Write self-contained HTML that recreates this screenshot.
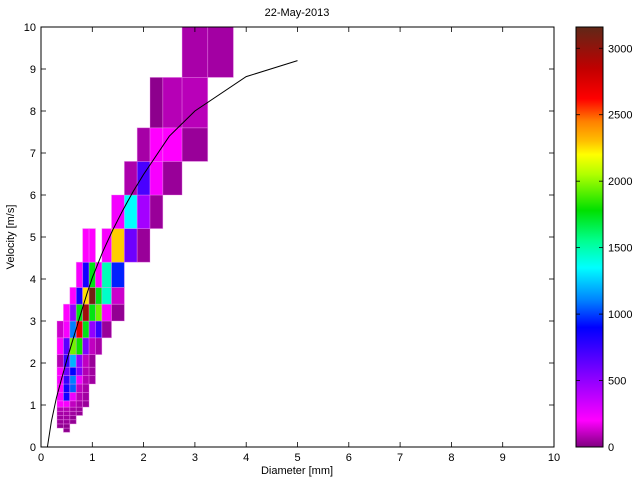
<!DOCTYPE html>
<html><head><meta charset="utf-8"><style>
body{margin:0;background:#fff;}
svg{display:block;font-family:"Liberation Sans",sans-serif;}
</style></head><body>
<svg id="chart" width="640" height="480" viewBox="0 0 640 480">
<rect width="640" height="480" fill="#fff"/>
<g id="cells"></g>
<path id="fit" fill="none" stroke="#000" stroke-width="1"/>
<rect x="41" y="27" width="513" height="420" fill="none" stroke="#000"/>
<g id="axes" font-size="11"></g>
<text x="297" y="16" font-size="11" text-anchor="middle">22-May-2013</text>
<text x="297" y="474" font-size="11" text-anchor="middle">Diameter [mm]</text>
<text x="14" y="237" font-size="11" text-anchor="middle" transform="rotate(-90 14 237)">Velocity [m/s]</text>
<defs><linearGradient id="cbg" x1="0" y1="1" x2="0" y2="0"></linearGradient></defs>
<rect x="576" y="27" width="27" height="420" fill="url(#cbg)" stroke="#000"/>
<g id="cbticks" font-size="11"></g>
</svg>
<script>
const diamEdges=[0.312,0.437,0.562,0.687,0.812,0.937,1.062,1.187,1.375,1.625,1.875,2.125,2.375,2.75,3.25,3.75];
const velEdges=[0.35,0.45,0.55,0.65,0.75,0.85,0.95,1.1,1.3,1.5,1.7,1.9,2.2,2.6,3.0,3.4,3.8,4.4,5.2,6.0,6.8,7.6,8.8,10.4];
const N=null;
// counts[row][col], row 0 = lowest velocity bin
const counts=[
[N,20],
[30,20],
[40,40,30],
[50,50,30],
[60,60,50,30],
[80,80,60,40],
[200,220,100,60,40],
[220,850,250,80,50],
[200,850,1050,100,60],
[220,750,1100,250,80,50],
[200,600,900,550,80,50],
[80,750,1200,500,100,40],
[200,650,1950,1800,550,100,60],
[120,220,1100,2700,1750,500,750,40],
[N,200,500,1750,2950,1750,1950,220,30],
[N,N,200,850,2250,3100,1750,1450,120],
[N,N,N,220,850,1750,200,1480,950],
[N,N,N,N,200,200,N,220,2280,600,40],
[N,N,N,N,N,N,N,N,230,1350,450,40],
[N,N,N,N,N,N,N,N,N,70,700,220,40],
[N,N,N,N,N,N,N,N,N,N,60,200,200,40],
[N,N,N,N,N,N,N,N,N,N,N,20,85,90],
[N,N,N,N,N,N,N,N,N,N,N,N,N,65,55]
];
const curveD=[0.1,0.2,0.3,0.4,0.5,0.6,0.7,0.8,0.9,1.0,1.2,1.4,1.6,1.8,2.0,2.5,3.0,4.0,5.0];
const curveV=[-0.2,0.6,1.17,1.62,2.06,2.47,2.87,3.27,3.67,4.03,4.64,5.17,5.65,6.09,6.49,7.4,8.0,8.82,9.2];
const xTicks=[0,1,2,3,4,5,6,7,8,9,10];
const yTicks=[0,1,2,3,4,5,6,7,8,9,10];
const cbTicks=[0,500,1000,1500,2000,2500,3000];
const cbMax=3160;
const cmapVals=[0,200,550,900,1100,1350,1550,1780,2050,2200,2300,2450,2620,2850,3160];
const cmapCols=['#800080','#ff00ff','#8000ff','#0000ff','#0080ff','#00ffff','#00ff90','#00e000','#b0ff00','#ffff00','#ffc000','#ff8000','#ff0000','#c00000','#602818'];

const NS='http://www.w3.org/2000/svg';
const X=d=>41+d*51.3, Y=v=>447-v*42, CY=c=>447-c/cbMax*420;
function hex(h){return [1,3,5].map(i=>parseInt(h.substr(i,2),16));}
function cmap(v){
  for(let i=1;i<cmapVals.length;i++){if(v<=cmapVals[i]){const t=(v-cmapVals[i-1])/(cmapVals[i]-cmapVals[i-1]);const a=hex(cmapCols[i-1]),b=hex(cmapCols[i]);return 'rgb('+a.map((x,k)=>Math.round(x+(b[k]-x)*t)).join(',')+')';}}
  return cmapCols[cmapCols.length-1];
}
const cells=document.getElementById('cells');
counts.forEach((row,r)=>row.forEach((val,c)=>{
  if(val==null)return;
  const el=document.createElementNS(NS,'rect');
  const y1=Y(Math.min(velEdges[r+1],10)),y0=Y(velEdges[r]);
  el.setAttribute('x',X(diamEdges[c]));el.setAttribute('width',X(diamEdges[c+1])-X(diamEdges[c]));
  el.setAttribute('y',y1);el.setAttribute('height',y0-y1);
  el.setAttribute('fill',cmap(val));el.setAttribute('stroke','rgba(240,140,240,0.45)');el.setAttribute('stroke-width','0.8');
  
  
  cells.appendChild(el);
}));
document.getElementById('fit').setAttribute('d',curveD.map((d,i)=>(i?'L':'M')+X(d).toFixed(1)+' '+Y(curveV[i]).toFixed(1)).join(' '));
const axes=document.getElementById('axes');
function line(x1,y1,x2,y2,p){const l=document.createElementNS(NS,'line');l.setAttribute('x1',x1);l.setAttribute('y1',y1);l.setAttribute('x2',x2);l.setAttribute('y2',y2);l.setAttribute('stroke','#000');l.setAttribute('stroke-width','0.8');
p.appendChild(l);}
function text(x,y,s,anc,p,name){const t=document.createElementNS(NS,'text');t.setAttribute('x',x);t.setAttribute('y',y);t.setAttribute('text-anchor',anc);t.textContent=s;
p.appendChild(t);}
xTicks.forEach(t=>{const x=X(t);line(x,447,x,442,axes);line(x,27,x,32,axes);text(x,461,String(t),'middle',axes,'x-tick-label');});
yTicks.forEach(t=>{const y=Y(t);line(41,y,46,y,axes);line(554,y,549,y,axes);text(36,y+4,String(t),'end',axes,'y-tick-label');});
const g=document.getElementById('cbg');
cmapVals.forEach((v,i)=>{const s=document.createElementNS(NS,'stop');s.setAttribute('offset',v/cbMax);s.setAttribute('stop-color',cmapCols[i]);g.appendChild(s);});
const cbt=document.getElementById('cbticks');
cbTicks.forEach(t=>{const y=CY(t);line(576,y,580,y,cbt);line(603,y,599,y,cbt);text(608,y+4,String(t),'start',cbt,'colorbar-tick-label');});
</script>
<svg width="0" height="0" style="position:absolute"><clipPath id="pc"><rect x="41" y="27" width="513" height="420"/></clipPath></svg>
<script>document.getElementById('fit').setAttribute('clip-path','url(#pc)');</script>
</body></html>
